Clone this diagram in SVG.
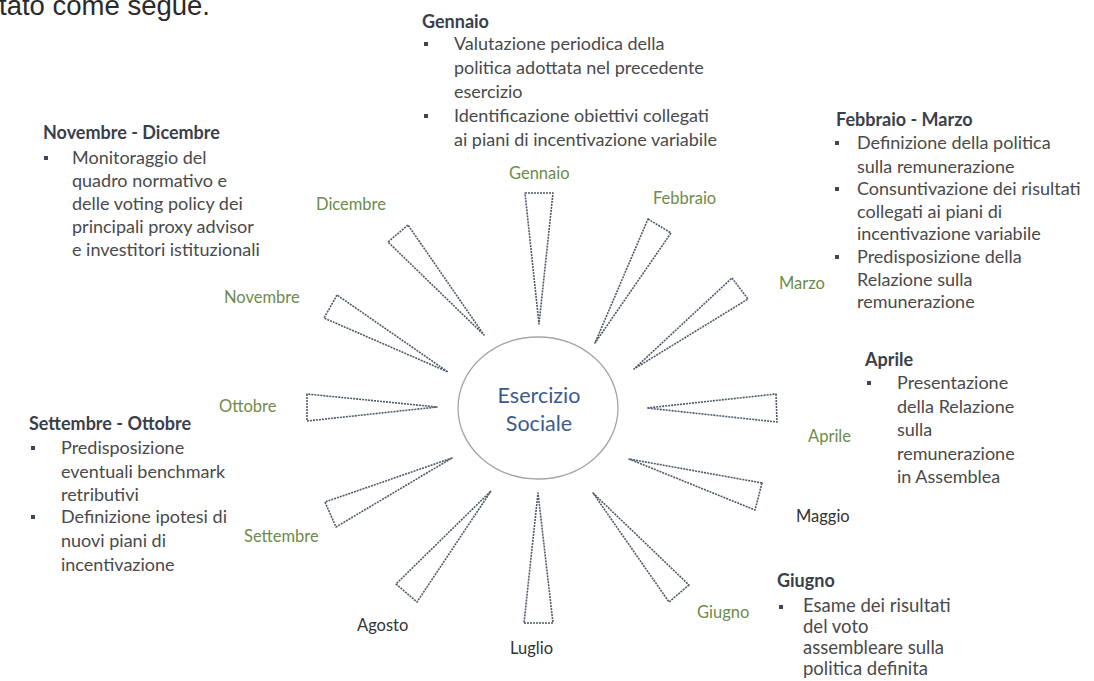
<svg xmlns="http://www.w3.org/2000/svg" width="1094" height="681" viewBox="0 0 1094 681">
<style>
.intro{font-family:"Liberation Sans",Arial,sans-serif;font-size:27.5px;fill:#2a2a2a}
.head{font-family:Lato,"Liberation Sans",sans-serif;font-size:18px;font-weight:bold;fill:#3a3f4b}
.body{font-family:Lato,"Liberation Sans",sans-serif;font-size:18px;fill:#4a4a4a}
.bodyg{font-family:Lato,"Liberation Sans",sans-serif;font-size:18.5px;fill:#4a4a4a}
.lab{font-family:Lato,"Liberation Sans",sans-serif;font-size:16.5px;fill:#6e8b4b}
.labd{font-family:Lato,"Liberation Sans",sans-serif;font-size:16.5px;fill:#333333}
.ctr{font-family:Lato,"Liberation Sans",sans-serif;font-size:21.5px;fill:#3c5a8c;text-anchor:middle}
.wedge{fill:#ffffff;stroke:#4f5968;stroke-width:1.6;stroke-dasharray:2 1;stroke-linejoin:round}
.bul{fill:#3d4556}
</style>
<text class="intro" x="-1" y="15">tato come segue.</text>

<g id="center">
<ellipse cx="538" cy="408" rx="80" ry="71" fill="#ffffff" stroke="#a5a5a5" stroke-width="1.3"/>
<text class="ctr" x="539" y="403">Esercizio</text>
<text class="ctr" x="539" y="431">Sociale</text>
</g>

<g id="connectors">
<polygon class="wedge" points="525,193 553,193 539,324"/>
<polygon class="wedge" points="648,219 671,233 595,343"/>
<polygon class="wedge" points="732,278 748,299 634,369"/>
<polygon class="wedge" points="776,394 777,422 647,408"/>
<polygon class="wedge" points="762,483 755,510 629,459"/>
<polygon class="wedge" points="689,585 669,602 593,493"/>
<polygon class="wedge" points="524,623 553,623 538,493"/>
<polygon class="wedge" points="396,584 417,602 491,491"/>
<polygon class="wedge" points="325,502 336,527 452,458"/>
<polygon class="wedge" points="307,394 307,421 437,407"/>
<polygon class="wedge" points="337,295 324,318 448,372"/>
<polygon class="wedge" points="408,225 388,242 484,335"/>
</g>

<g id="month-labels">
<text class="lab" x="509" y="179">Gennaio</text>
<text class="lab" x="653" y="204">Febbraio</text>
<text class="lab" x="779" y="289">Marzo</text>
<text class="lab" x="808" y="442">Aprile</text>
<text class="labd" x="796" y="522">Maggio</text>
<text class="lab" x="697" y="618">Giugno</text>
<text class="labd" x="510" y="654">Luglio</text>
<text class="labd" x="357" y="631">Agosto</text>
<text class="lab" x="244" y="542">Settembre</text>
<text class="lab" x="219" y="412">Ottobre</text>
<text class="lab" x="224" y="303">Novembre</text>
<text class="lab" x="316" y="210">Dicembre</text>
</g>

<g id="block-gennaio">
<text class="head" x="422" y="28">Gennaio</text>
<rect class="bul" x="424" y="42" width="4" height="4"/>
<text class="body" x="454" y="50">Valutazione periodica della</text>
<text class="body" x="454" y="74">politica adottata nel precedente</text>
<text class="body" x="454" y="98">esercizio</text>
<rect class="bul" x="424" y="114" width="4" height="4"/>
<text class="body" x="454" y="122">Identificazione obiettivi collegati</text>
<text class="body" x="454" y="146">ai piani di incentivazione variabile</text>
</g>

<g id="block-febbraio-marzo">
<text class="head" x="836" y="126">Febbraio - Marzo</text>
<rect class="bul" x="835" y="141" width="4" height="4"/>
<text class="body" x="857" y="149">Definizione della politica</text>
<text class="body" x="857" y="173">sulla remunerazione</text>
<rect class="bul" x="835" y="187" width="4" height="4"/>
<text class="body" x="857" y="195">Consuntivazione dei risultati</text>
<text class="body" x="857" y="218">collegati ai piani di</text>
<text class="body" x="857" y="240">incentivazione variabile</text>
<rect class="bul" x="835" y="255" width="4" height="4"/>
<text class="body" x="857" y="263">Predisposizione della</text>
<text class="body" x="857" y="286">Relazione sulla</text>
<text class="body" x="857" y="308">remunerazione</text>
</g>

<g id="block-aprile">
<text class="head" x="865" y="366">Aprile</text>
<rect class="bul" x="867" y="381" width="4" height="4"/>
<text class="body" x="897" y="389">Presentazione</text>
<text class="body" x="897" y="413">della Relazione</text>
<text class="body" x="897" y="436">sulla</text>
<text class="body" x="897" y="460">remunerazione</text>
<text class="body" x="897" y="483">in Assemblea</text>
</g>

<g id="block-giugno">
<text class="head" x="777" y="587">Giugno</text>
<rect class="bul" x="779" y="605" width="4" height="4"/>
<text class="bodyg" x="803" y="612">Esame dei risultati</text>
<text class="bodyg" x="803" y="633">del voto</text>
<text class="bodyg" x="803" y="654">assembleare sulla</text>
<text class="bodyg" x="803" y="675">politica definita</text>
</g>

<g id="block-settembre-ottobre">
<text class="head" x="29" y="430">Settembre - Ottobre</text>
<rect class="bul" x="31" y="446" width="4" height="4"/>
<text class="body" x="61" y="454">Predisposizione</text>
<text class="body" x="61" y="478">eventuali benchmark</text>
<text class="body" x="61" y="501">retributivi</text>
<rect class="bul" x="31" y="515" width="4" height="4"/>
<text class="body" x="61" y="523">Definizione ipotesi di</text>
<text class="body" x="61" y="547">nuovi piani di</text>
<text class="body" x="61" y="571">incentivazione</text>
</g>

<g id="block-novembre-dicembre">
<text class="head" x="43" y="139">Novembre - Dicembre</text>
<rect class="bul" x="44" y="156" width="4" height="4"/>
<text class="body" x="72" y="164">Monitoraggio del</text>
<text class="body" x="72" y="187">quadro normativo e</text>
<text class="body" x="72" y="210">delle voting policy dei</text>
<text class="body" x="72" y="233">principali proxy advisor</text>
<text class="body" x="72" y="256">e investitori istituzionali</text>
</g>
</svg>
